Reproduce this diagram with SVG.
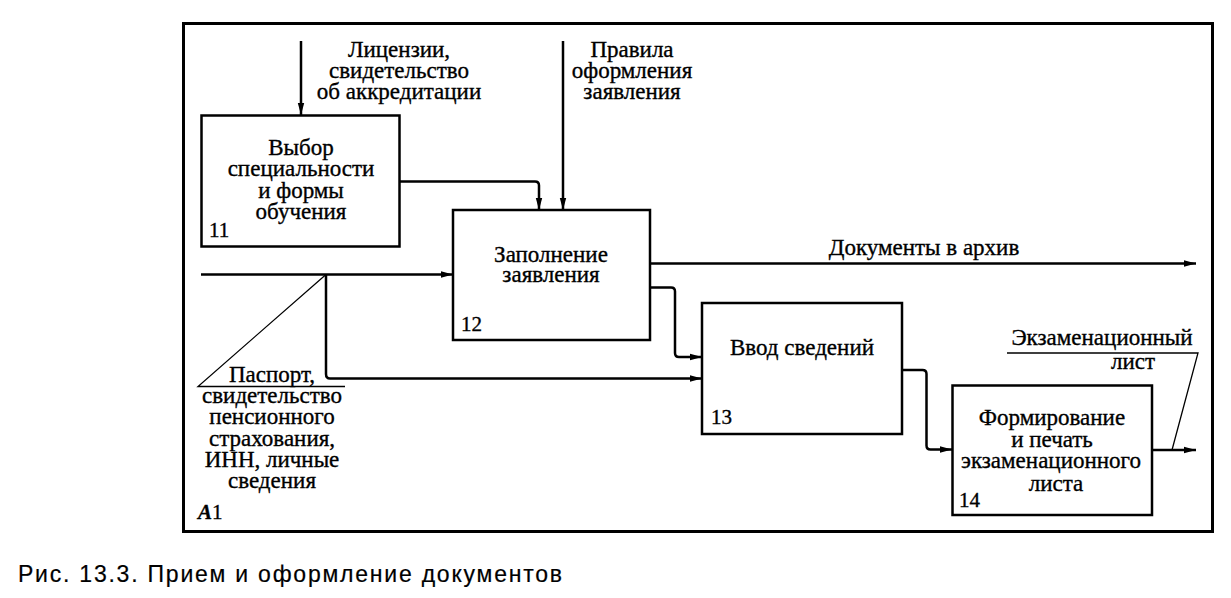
<svg xmlns="http://www.w3.org/2000/svg" width="1231" height="598" viewBox="0 0 1231 598">
<style>
.bx{fill:#fff;stroke:#000;stroke-width:2.5}
.ln{fill:none;stroke:#000;stroke-width:2.5;stroke-linejoin:round}
.th{fill:none;stroke:#000;stroke-width:1.3}
text{font-family:"Liberation Serif","Times New Roman",serif;font-size:23px;fill:#000;stroke:#000;stroke-width:0.35}
.c{text-anchor:middle}
.n{font-size:21px}
.cap{font-family:"Liberation Sans",Arial,sans-serif;font-size:23px;stroke-width:0.2}
</style>
<defs>
<marker id="ah" viewBox="0 0 12 8" refX="12" refY="4" markerWidth="12" markerHeight="8" markerUnits="userSpaceOnUse" orient="auto">
<path d="M0,0.8 L12,4 L0,7.2 Z" fill="#000"/>
</marker>
</defs>
<rect x="0" y="0" width="1231" height="598" fill="#fff"/>
<rect x="183.5" y="23.5" width="1029" height="508" fill="none" stroke="#000" stroke-width="3"/>

<g id="connectors">
<path class="ln" d="M301,41 V115" marker-end="url(#ah)"/>
<path class="ln" d="M563,41 V210" marker-end="url(#ah)"/>
<path class="ln" d="M400,181.5 H535 Q539,181.5 539,185.5 V210" marker-end="url(#ah)"/>
<path class="ln" d="M201,274.5 H453" marker-end="url(#ah)"/>
<path class="ln" d="M326,274.5 V374 Q326,378.5 330,378.5 H702" marker-end="url(#ah)"/>
<path class="th" d="M326,274.5 L198,386.5 H345"/>
<path class="ln" d="M650,263.5 H1196" marker-end="url(#ah)"/>
<path class="ln" d="M650,287.5 H671 Q675,287.5 675,291.5 V353 Q675,357 679,357 H702" marker-end="url(#ah)"/>
<path class="ln" d="M902,370 H922.5 Q926.5,370 926.5,374 V445.5 Q926.5,449.5 930.5,449.5 H952" marker-end="url(#ah)"/>
<path class="ln" d="M1152,450 H1196" marker-end="url(#ah)"/>
<path class="th" d="M1007,353 H1198 L1172,450"/>
</g>

<g id="node11">
<rect class="bx" x="201.5" y="115.5" width="198" height="131"/>
<text class="c" x="301" y="155">Выбор</text>
<text class="c" x="301" y="176">специальности</text>
<text class="c" x="301" y="198">и формы</text>
<text class="c" x="301" y="219">обучения</text>
<text class="n" x="209" y="237">11</text>
</g>

<g id="node12">
<rect class="bx" x="453" y="210" width="197" height="130"/>
<text class="c" x="551" y="262">Заполнение</text>
<text class="c" x="551" y="282">заявления</text>
<text class="n" x="461" y="331">12</text>
</g>

<g id="node13">
<rect class="bx" x="702" y="303" width="200" height="131"/>
<text class="c" x="802" y="355">Ввод сведений</text>
<text class="n" x="711" y="424">13</text>
</g>

<g id="node14">
<rect class="bx" x="952.5" y="385.5" width="199.5" height="129.5"/>
<text class="c" x="1052" y="425">Формирование</text>
<text class="c" x="1052" y="447">и печать</text>
<text class="c" x="1051" y="468">экзаменационного</text>
<text class="c" x="1056" y="491">листа</text>
<text class="n" x="959" y="507">14</text>
</g>

<g id="labels">
<text class="c" x="399" y="57">Лицензии,</text>
<text class="c" x="399" y="78">свидетельство</text>
<text class="c" x="399" y="99">об аккредитации</text>
<text class="c" x="632" y="57">Правила</text>
<text class="c" x="632" y="78">оформления</text>
<text class="c" x="632" y="99">заявления</text>
<text class="c" x="924" y="255">Документы в архив</text>
<text class="c" x="1102" y="345">Экзаменационный</text>
<text class="c" x="1133" y="369">лист</text>
<text class="c" x="272" y="382">Паспорт,</text>
<text class="c" x="272" y="403">свидетельство</text>
<text class="c" x="272" y="424">пенсионного</text>
<text class="c" x="272" y="446">страхования,</text>
<text class="c" x="272" y="467">ИНН, личные</text>
<text class="c" x="272" y="488">сведения</text>
<text class="n" x="198" y="519"><tspan font-style="italic" font-weight="bold">A</tspan>1</text>
</g>

<text class="cap" x="18" y="582" textLength="544" lengthAdjust="spacing">Рис. 13.3. Прием и оформление документов</text>
</svg>
